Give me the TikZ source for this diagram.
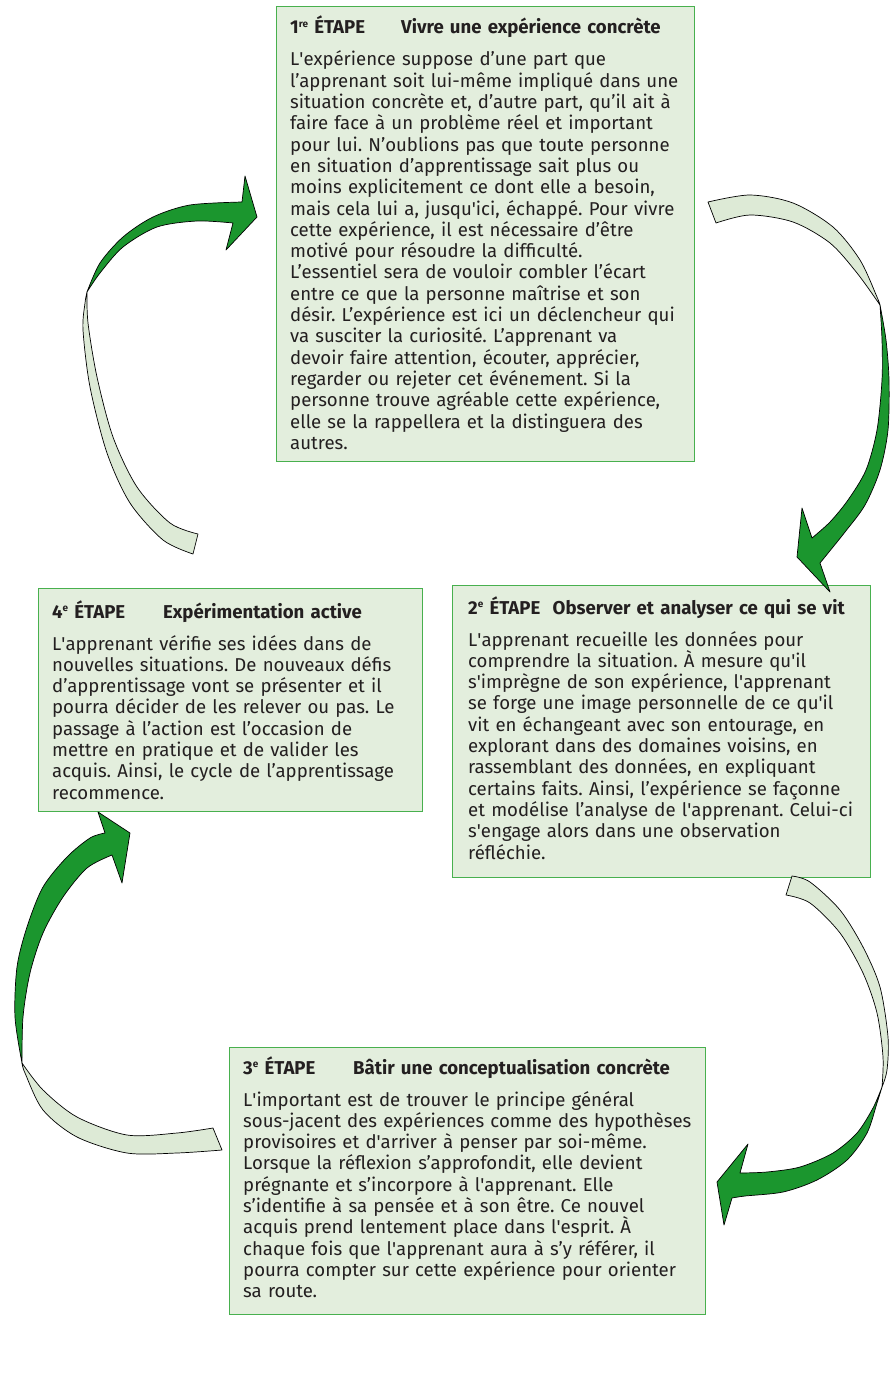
\documentclass[tikz,border=0pt]{standalone}
\usepackage{fontspec}
\setmainfont{Fira Sans}
\definecolor{etapefill}{RGB}{227,238,221}
\definecolor{etapedraw}{RGB}{72,176,78}
\definecolor{arrowlight}{RGB}{221,234,214}
\definecolor{arrowdark}{RGB}{27,150,46}
\definecolor{textcol}{RGB}{35,31,32}
\newcommand\ap{\textquotesingle}
\newcommand\etsup[1]{\raisebox{6.5pt}{\fontsize{10}{10}\selectfont #1}}
\frenchspacing

\begin{document}
\begin{tikzpicture}[x=1pt,y=-1pt]
  \tikzstyle{etape}=[draw=etapedraw,fill=etapefill,line width=1.2pt,anchor=north west,inner sep=0pt];
  \tikzstyle{etapetext}=[anchor=base west,align=left,text width=470pt,inner sep=0pt,text=textcol,font=\fontsize{18.6}{21.3}\selectfont];
  \tikzstyle{fleche}=[draw=black,line width=0.7pt,line join=round];

  \useasboundingbox (0,0) rectangle (893,1375);

  \node[etape,minimum width=418pt,minimum height=455pt] (box1) at (276,6) {};
  \node[etape,minimum width=418pt,minimum height=292pt] (box2) at (452,585) {};
  \node[etape,minimum width=476pt,minimum height=267pt] (box3) at (229,1047) {};
  \node[etape,minimum width=384pt,minimum height=223pt] (box4) at (38,588) {};

  \node[etapetext] (txt1) at (290,34) {\makebox[111pt][l]{\textbf{1\etsup{re} ÉTAPE}}\textbf{Vivre une expérience concrète}\\[10.7pt]
    L\ap expérience suppose d’une part que\\
    l’apprenant soit lui-même impliqué dans une\\
    situation concrète et, d’autre part, qu’il ait à\\
    faire face à un problème réel et important\\
    pour lui. N’oublions pas que toute personne\\
    en situation d’apprentissage sait plus ou\\
    moins explicitement ce dont elle a besoin,\\
    mais cela lui a, jusqu\ap ici, échappé. Pour vivre\\
    cette expérience, il est nécessaire d’être\\
    motivé pour résoudre la difficulté.\\
    L’essentiel sera de vouloir combler l’écart\\
    entre ce que la personne maîtrise et son\\
    désir. L’expérience est ici un déclencheur qui\\
    va susciter la curiosité. L’apprenant va\\
    devoir faire attention, écouter, apprécier,\\
    regarder ou rejeter cet événement. Si la\\
    personne trouve agréable cette expérience,\\
    elle se la rappellera et la distinguera des\\
    autres.};

  \node[etapetext] (txt2) at (468,614) {\textbf{2\etsup{e} ÉTAPE\ \ Observer et analyser ce qui se vit}\\[10.7pt]
    L\ap apprenant recueille les données pour\\
    comprendre la situation. À mesure qu\ap il\\
    s\ap imprègne de son expérience, l\ap apprenant\\
    se forge une image personnelle de ce qu\ap il\\
    vit en échangeant avec son entourage, en\\
    explorant dans des domaines voisins, en\\
    rassemblant des données, en expliquant\\
    certains faits. Ainsi, l’expérience se façonne\\
    et modélise l’analyse de l\ap apprenant. Celui-ci\\
    s\ap engage alors dans une observation\\
    réfléchie.};

  \node[etapetext] (txt3) at (243,1074) {\makebox[110pt][l]{\textbf{3\etsup{e} ÉTAPE}}\textbf{Bâtir une conceptualisation concrète}\\[10.7pt]
    L\ap important est de trouver le principe général\\
    sous-jacent des expériences comme des hypothèses\\
    provisoires et d\ap arriver à penser par soi-même.\\
    Lorsque la réflexion s’approfondit, elle devient\\
    prégnante et s’incorpore à l\ap apprenant. Elle\\
    s’identifie à sa pensée et à son être. Ce nouvel\\
    acquis prend lentement place dans l\ap esprit. À\\
    chaque fois que l\ap apprenant aura à s’y référer, il\\
    pourra compter sur cette expérience pour orienter\\
    sa route.};

  \node[etapetext] (txt4) at (52,618) {\makebox[111pt][l]{\textbf{4\etsup{e} ÉTAPE}}\textbf{Expérimentation active}\\[10.7pt]
    L\ap apprenant vérifie ses idées dans de\\
    nouvelles situations. De nouveaux défis\\
    d’apprentissage vont se présenter et il\\
    pourra décider de les relever ou pas. Le\\
    passage à l’action est l’occasion de\\
    mettre en pratique et de valider les\\
    acquis. Ainsi, le cycle de l’apprentissage\\
    recommence.};

  \path[fleche,fill=arrowlight] plot[smooth] coordinates {(193,554) (163,540) (130,503) (107,453) (90,387) (83,330) (85,303) (87,292)}
    --plot[smooth] coordinates {(87,292) (88,323) (97,377) (113,437) (137,487) (170,523) (198,534)} -- cycle;
  \path[fleche,fill=arrowdark] plot[smooth] coordinates {(87,292) (100,263) (123,237) (153,217) (190,205) (242,202)}
    -- (245,176) -- (257,217) -- (226,250)
    --plot[smooth] coordinates {(233,223) (197,221) (157,227) (123,247) (100,273) (87,292)} -- cycle;

  \path[fleche,fill=arrowlight] plot[smooth] coordinates {(708,202) (750,195) (793,203) (833,227) (860,260) (877,297) (880,305)}
    --plot[smooth] coordinates {(880,305) (857,273) (830,243) (793,222) (750,215) (716,223)} -- cycle;
  \path[fleche,fill=arrowdark] plot[smooth] coordinates {(880,305) (886,340) (889,380) (888,430) (880,470) (865,505) (845,532) (820,563)}
    -- (830,592) -- (797,557) -- (802,508)
    --plot[smooth] coordinates {(812,538) (830,522) (848,500) (866,470) (877,430) (882,380) (882,340) (880,305)} -- cycle;

  \path[fleche,fill=arrowlight] plot[smooth] coordinates {(792,876) (810,882) (840,910) (863,947) (880,987) (888,1037) (887,1070) (882,1087)}
    --plot[smooth] coordinates {(882,1087) (883,1057) (877,1013) (863,973) (840,933) (810,903) (786,895)} -- cycle;
  \path[fleche,fill=arrowdark] plot[smooth] coordinates {(882,1087) (877,1103) (867,1133) (847,1160) (817,1180) (783,1192) (745,1196) (732,1198)}
    -- (724,1225) -- (717,1182) -- (748,1144)
    --plot[smooth] coordinates {(740,1173) (767,1172) (800,1167) (833,1153) (857,1133) (873,1108) (882,1087)} -- cycle;

  \path[fleche,fill=arrowlight] plot[smooth] coordinates {(222,1150) (177,1153) (127,1153) (77,1137) (43,1110) (25,1073) (22,1063)}
    --plot[smooth] coordinates {(22,1063) (43,1090) (77,1117) (127,1135) (177,1133) (213,1128)} -- cycle;
  \path[fleche,fill=arrowdark] plot[smooth] coordinates {(22,1063) (15,1017) (17,967) (27,927) (43,887) (67,857) (90,838) (105,833)}
    -- (98,812) -- (130,833) -- (122,883)
    --plot[smooth] coordinates {(112,855) (87,868) (63,897) (43,933) (30,973) (23,1017) (22,1063)} -- cycle;
\end{tikzpicture}
\end{document}
